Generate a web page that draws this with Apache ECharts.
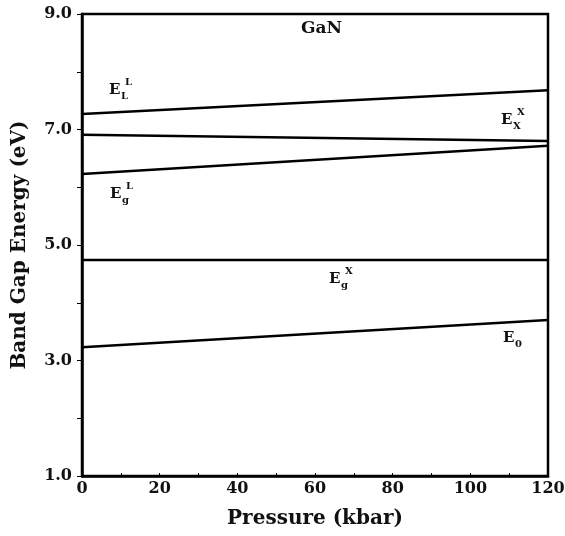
<!DOCTYPE html>
<html>
<head>
<meta charset="utf-8">
<script src="https://cdn.jsdelivr.net/npm/echarts@6/dist/echarts.min.js"></script>
<style>
  html, body { margin: 0; padding: 0; background: #fff; }
  #chart { width: 565px; height: 536px; }
</style>
</head>
<body>
<div id="chart"></div>
<script>
// pressure (kbar) at the two ends of each line
const pressure = [0, 120];
// band gap energies (eV)
const eLL = [7.27, 7.68];
const eXX = [6.91, 6.80];
const egL = [6.23, 6.72];
const egX = [4.74, 4.74];
const e0 = [3.23, 3.70];

const yLabeled = [1, 3, 5, 7, 9];

const FONT = 'DejaVu Serif';

function pairs (ys) {
  return pressure.map(function (p, i) { return [p, ys[i]]; });
}

function lineSeries (name, ys) {
  return {
    name: name,
    type: 'line',
    data: pairs(ys),
    showSymbol: false,
    lineStyle: { color: '#000', width: 2.5 },
    silent: true
  };
}

// E with subscript/superscript, placed as small text pieces
function eLabel (x, y, sub, sup) {
  let children = [
    { type: 'text', x: x, y: y, style: { text: 'E', font: 'bold 15px ' + FONT, fill: '#111' } }
  ];
  if (sub) {
    children.push({ type: 'text', x: x + 12, y: y + 8, style: { text: sub, font: 'bold 10px ' + FONT, fill: '#111' } });
  }
  if (sup) {
    children.push({ type: 'text', x: x + 16, y: y - 6, style: { text: sup, font: 'bold 10px ' + FONT, fill: '#111' } });
  }
  return { type: 'group', children: children };
}

let chart = echarts.init(document.getElementById('chart'));
chart.setOption({
  animation: false,
  backgroundColor: '#fff',
  grid: {
    left: 82,
    right: 17,
    top: 14,
    bottom: 60,
    outerBoundsMode: 'none',
    show: true,
    borderColor: '#000',
    borderWidth: 2.5
  },
  xAxis: {
    type: 'value',
    min: 0,
    max: 120,
    interval: 20,
    name: 'Pressure (kbar)',
    nameLocation: 'middle',
    nameGap: 33,
    nameTextStyle: { fontFamily: FONT, fontWeight: 'bold', fontSize: 20, color: '#111' },
    axisLine: { show: true, lineStyle: { color: '#000', width: 2.5 } },
    axisTick: { show: true, inside: true, length: 3, lineStyle: { color: '#000' } },
    minorTick: { show: true, splitNumber: 2, length: 3, lineStyle: { color: '#000' } },
    axisLabel: { fontFamily: FONT, fontWeight: 'bold', fontSize: 16, color: '#111', margin: 5 },
    splitLine: { show: false }
  },
  yAxis: {
    type: 'value',
    min: 1,
    max: 9,
    interval: 1,
    name: 'Band Gap Energy (eV)',
    nameLocation: 'middle',
    nameGap: 52,
    nameTextStyle: { fontFamily: FONT, fontWeight: 'bold', fontSize: 20, color: '#111' },
    axisLine: { show: true, lineStyle: { color: '#000', width: 2.5 } },
    axisTick: { show: true, length: 5, lineStyle: { color: '#000' } },
    axisLabel: {
      fontFamily: FONT,
      fontWeight: 'bold',
      fontSize: 16,
      color: '#111',
      margin: 10,
      formatter: function (v) {
        return yLabeled.indexOf(v) >= 0 ? v.toFixed(1) : '';
      }
    },
    splitLine: { show: false }
  },
  series: [
    lineSeries('ELL', eLL),
    lineSeries('EXX', eXX),
    lineSeries('EgL', egL),
    lineSeries('EgX', egX),
    lineSeries('E0', e0)
  ],
  graphic: [
    { type: 'text', x: 301, y: 20, style: { text: 'GaN', font: 'bold 17px ' + FONT, fill: '#111' } },
    eLabel(109, 83, 'L', 'L'),
    eLabel(501, 113, 'X', 'X'),
    eLabel(110, 187, 'g', 'L'),
    eLabel(329, 272, 'g', 'X'),
    eLabel(503, 331, '0', null)
  ]
});
</script>
</body>
</html>
